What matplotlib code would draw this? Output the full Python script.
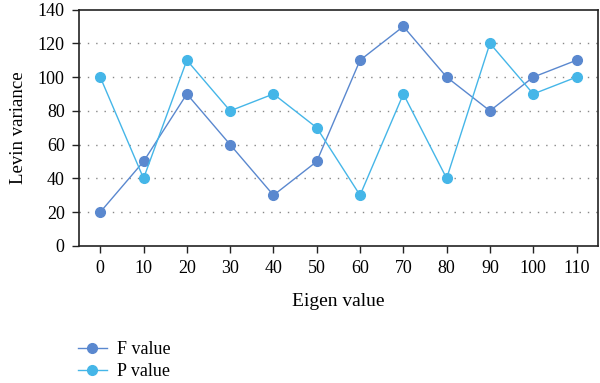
import matplotlib.pyplot as plt
import numpy as np

# data
eigen = [0, 10, 20, 30, 40, 50, 60, 70, 80, 90, 100, 110]
f_value = [20, 50, 90, 60, 30, 50, 110, 130, 100, 80, 100, 110]
p_value = [100, 40, 110, 80, 90, 70, 30, 90, 40, 120, 90, 100]

plt.rcParams['font.family'] = ['Liberation Serif', 'DejaVu Serif']

fig = plt.figure(figsize=(6, 3.83), dpi=100)
ax = fig.add_axes([0.131, 0.358, 0.866, 0.617])

x = np.arange(len(eigen))
ax.plot(x, f_value, color='#5a88cf', lw=1, marker='o', ms=7, label='F value', zorder=3)
ax.plot(x, p_value, color='#45b6e8', lw=1, marker='o', ms=7, label='P value', zorder=3)

ax.set_xlim(-0.5, len(eigen) - 0.5)
ax.set_ylim(0, 140)
ax.set_xticks(x)
ax.set_xticklabels([str(e) for e in eigen])
ax.set_yticks(range(0, 141, 20))

for y in range(20, 140, 20):
    ax.axhline(y, color='#888888', lw=1, ls=(0, (1, 5)), zorder=1)

for s in ax.spines.values():
    s.set_color('#222222')
    s.set_linewidth(1.2)
ax.tick_params(axis='both', labelsize=13, color='#222222', length=5, width=1, pad=5)

ax.set_ylabel('Levin variance', fontsize=13.5, labelpad=8)
ax.set_xlabel('Eigen value', fontsize=14, labelpad=12)

fig.legend(loc='upper left', bbox_to_anchor=(0.13, 0.11), frameon=False,
           fontsize=13, handlelength=1.6, handletextpad=0.55, labelspacing=0.3,
           borderpad=0, borderaxespad=0)

fig.savefig('out.png', dpi=100)
